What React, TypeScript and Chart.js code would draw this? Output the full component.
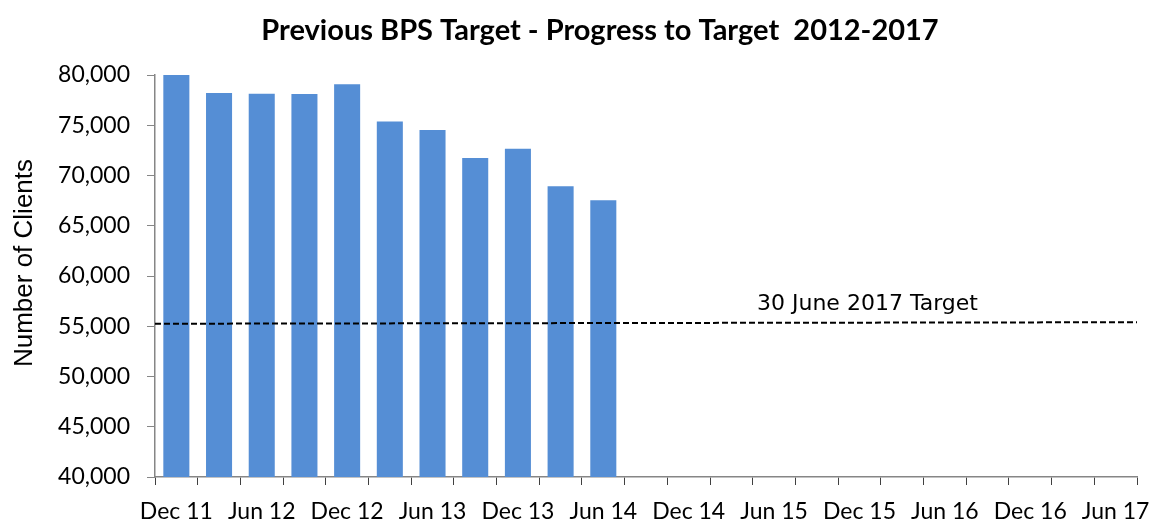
import React, { useEffect, useRef } from "react";
import { Chart, registerables } from "chart.js";

Chart.register(...registerables);

const categories = [
  "Dec 11", "Mar 12", "Jun 12", "Sep 12", "Dec 12", "Mar 13", "Jun 13", "Sep 13",
  "Dec 13", "Mar 14", "Jun 14", "Sep 14", "Dec 14", "Mar 15", "Jun 15", "Sep 15",
  "Dec 15", "Mar 16", "Jun 16", "Sep 16", "Dec 16", "Mar 17", "Jun 17",
];
const clients = [80050, 78210, 78140, 78110, 79070, 75380, 74530, 71740, 72660, 68920, 67530];
const targetSpan = [0, 1];
const targetValues = [55250, 55400];
const targetLabel = "30 June 2017 Target";
const targetLabelCategory = "Dec 15";
const chartTitle = "Previous BPS Target - Progress to Target  2012-2017";
const yAxisTitle = "Number of Clients";
const yMin = 40000;
const yMax = 80000;
const yStep = 5000;

const annotationPlugin = {
  id: "annotations",
  afterDraw(chart: any) {
    const { ctx, scales, chartArea, width } = chart;

    // chart title
    ctx.save();
    ctx.font = "bold 29px Lato";
    ctx.fillStyle = "#000";
    ctx.textAlign = "center";
    ctx.textBaseline = "middle";
    ctx.fillText(chartTitle, (63 + chartArea.right) / 2, 30.4);
    ctx.restore();

    // target label
    const idx = categories.indexOf(targetLabelCategory);
    const x = scales.x.getPixelForValue(idx) + 8;
    const y = scales.y.getPixelForValue(targetValues[1]) - 12;
    ctx.save();
    ctx.font = "22px 'DejaVu Sans'";
    ctx.fillStyle = "#000";
    ctx.textAlign = "center";
    ctx.textBaseline = "alphabetic";
    ctx.fillText(targetLabel, x, y);
    ctx.restore();

    // y-axis title
    ctx.save();
    ctx.font = "26px 'Liberation Sans'";
    ctx.fillStyle = "#000";
    ctx.textAlign = "center";
    ctx.textBaseline = "alphabetic";
    ctx.translate(32, (chartArea.top + chartArea.bottom) / 2 - 13);
    ctx.rotate(-Math.PI / 2);
    ctx.fillText(yAxisTitle, 0, 0);
    ctx.restore();
  },
};

export default function App() {
  const ref = useRef<HTMLCanvasElement | null>(null);
  useEffect(() => {
    if (!ref.current) return;
    const chart = new Chart(ref.current, {
      type: "bar",
      data: {
        labels: categories,
        datasets: [
          {
            type: "bar",
            data: clients,
            backgroundColor: "#558ed5",
            borderWidth: 0,
            barPercentage: 0.61,
            categoryPercentage: 1,
            grouped: false,
            xAxisID: "x",
            yAxisID: "y",
            order: 2,
          } as any,
          {
            type: "line",
            data: targetSpan.map((x, i) => ({ x, y: targetValues[i] })),
            borderColor: "#000",
            borderWidth: 2,
            borderDash: [6, 3],
            pointRadius: 0,
            fill: false,
            grouped: false,
            xAxisID: "x2",
            yAxisID: "y",
            order: 1,
          } as any,
        ],
      },
      options: {
        animation: false,
        responsive: true,
        maintainAspectRatio: false,
        layout: { padding: { left: 0, right: 15, top: 75, bottom: 0 } },
        plugins: {
          legend: { display: false },
          tooltip: { enabled: false },
          title: { display: false },
        },
        scales: {
          x: {
            type: "category",
            offset: true,
            grid: {
              offset: true,
              drawOnChartArea: false,
              drawTicks: true,
              tickLength: 8,
              color: "#404040",
            },
            border: { display: true, color: "#868686", width: 1.5 },
            ticks: {
              autoSkip: false,
              maxRotation: 0,
              minRotation: 0,
              padding: 13,
              color: "#000",
              font: { family: "Lato", size: 23 },
              callback: (_v: any, i: number) => (i % 2 === 0 ? categories[i] : ""),
            },
            afterFit: (s: any) => {
              s.height = 44;
              s.paddingLeft = 0;
              s.paddingRight = 0;
            },
          },
          x2: {
            type: "linear",
            display: false,
            offset: false,
            min: 0,
            max: 1,
          },
          y: {
            min: yMin,
            max: yMax,
            grid: {
              drawOnChartArea: false,
              drawTicks: true,
              tickLength: 8,
              color: "#868686",
            },
            border: { display: true, color: "#868686", width: 1.5 },
            ticks: {
              stepSize: yStep,
              padding: 17,
              color: "#000",
              font: { family: "Lato", size: 23 },
              callback: (v: any) => Number(v).toLocaleString("en-US"),
            },
            afterFit: (s: any) => {
              s.width = 155;
              s.paddingTop = 0;
            },
          },
        },
      },
      plugins: [annotationPlugin],
    });
    return () => chart.destroy();
  }, []);
  return (
    <div style={{ position: "fixed", left: 0, top: 0, width: 1152, height: 521, background: "#fff" }}>
      <canvas ref={ref} />
    </div>
  );
}
